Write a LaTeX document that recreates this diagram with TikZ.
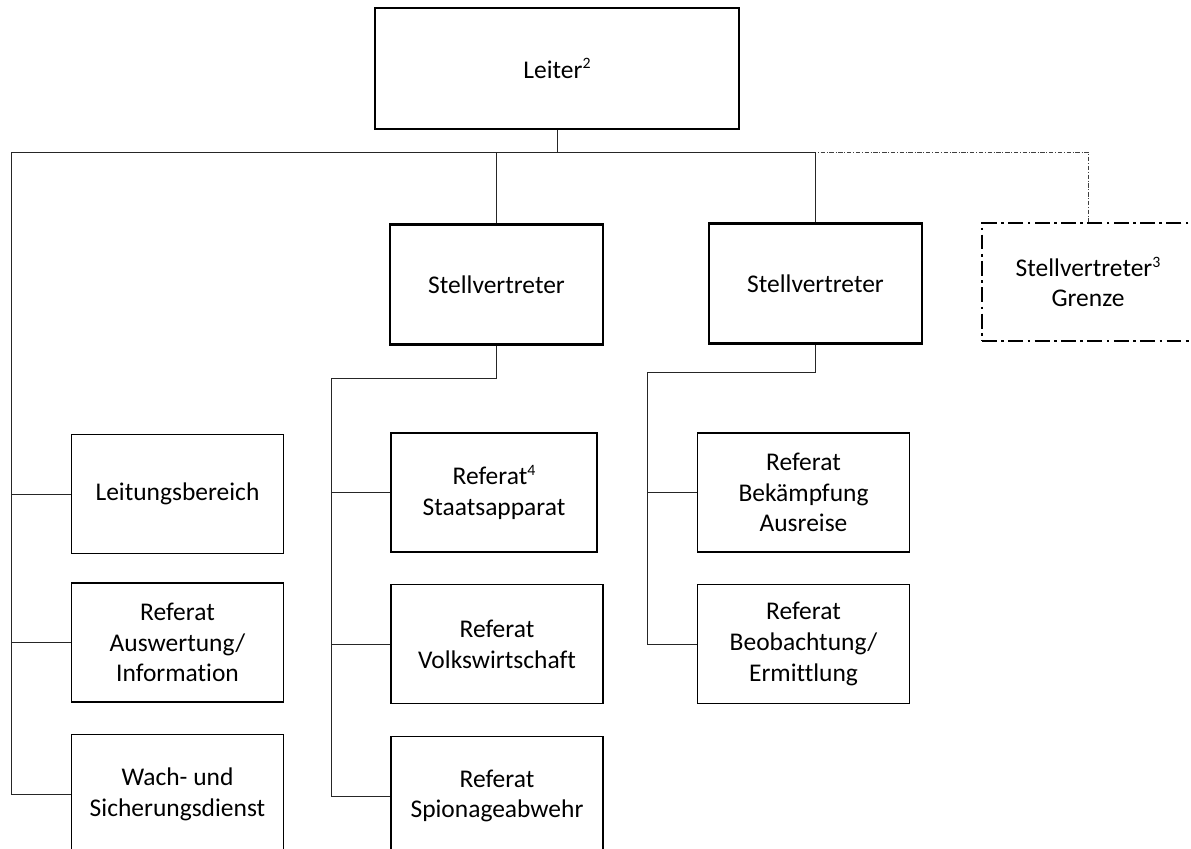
\documentclass[tikz,border=0pt]{standalone}
\usepackage{fontspec}
\setmainfont{Carlito}[Ligatures=NoCommon]
\usepackage{tikz}
\usetikzlibrary{positioning, calc}
\newcommand{\hochzahl}[1]{\raisebox{0.75ex}{\fontsize{9}{10}\selectfont #1}}

\begin{document}
\begin{tikzpicture}[
    every node/.style={font=\fontsize{14.5}{17.5}\selectfont, align=center, inner sep=0pt},
    leiterbox/.style={draw, line width=1.2pt, minimum width=7.28cm, minimum height=2.42cm},
    stvbox/.style={draw, line width=1.2pt, minimum width=4.26cm, minimum height=2.4cm},
    grenzbox/.style={draw, line width=1.1pt, dash pattern=on 8.5pt off 2.5pt on 1.5pt off 2.5pt, minimum width=4.24cm, minimum height=2.36cm},
    refbox/.style={draw, line width=0.6pt, minimum width=4.24cm, minimum height=2.38cm},
    conn/.style={draw, line width=0.55pt, black!85},
    dashconn/.style={draw, line width=0.45pt, black!75, dash pattern=on 2.5pt off 1pt on 0.5pt off 1pt}
]
\useasboundingbox (0,0) rectangle (23.82,-16.98);
\clip (0,0) rectangle (23.82,-16.98);

\node[leiterbox] (leiter) at (11.14,-1.37) {Leiter\hochzahl{2}};
\node[stvbox] (stv1) at (9.93,-5.69) {Stellvertreter};
\node[stvbox] (stv2) at (16.31,-5.67) {Stellvertreter};
\node[grenzbox] (grenze) at (21.76,-5.64) {Stellvertreter\hochzahl{3}\\Grenze};

\node[refbox] (leitung) at (3.55,-9.88) {Leitungsbereich};
\node[refbox] (auswertung) at (3.55,-12.85) {Referat\\Auswertung/\\Information};
\node[refbox] (wach) at (3.55,-15.88) {Wach- und\\Sicherungsdienst};

\node[refbox, minimum width=4.12cm] (staat) at (9.88,-9.85) {Referat\hochzahl{4}\\Staatsapparat};
\node[refbox] (volkswirt) at (9.94,-12.88) {Referat\\Volkswirtschaft};
\node[refbox] (spionage) at (9.94,-15.92) {Referat\\Spionageabwehr};

\node[refbox] (bekaempf) at (16.07,-9.85) {Referat\\Bekämpfung\\Ausreise};
\node[refbox] (beobacht) at (16.07,-12.88) {Referat\\Beobachtung/\\Ermittlung};

\coordinate (bus) at (0.22,-3.04);
\coordinate (mid) at (6.62,-7.56);
\coordinate (rgt) at (12.94,-7.44);

\draw[dashconn] (leiter.south |- bus) -| (grenze.north);
\draw[conn] (leiter.south) -- (leiter.south |- bus);
\draw[conn] (wach.west) -| (bus) -| (stv2.north);
\draw[conn] (stv1.north) -- (stv1.north |- bus);
\draw[conn] (leitung.west) -- (leitung.west -| bus);
\draw[conn] (auswertung.west) -- (auswertung.west -| bus);

\draw[conn] (stv1.south) |- (mid) |- (spionage.west);
\draw[conn] (staat.west) -- (staat.west -| mid);
\draw[conn] (volkswirt.west) -- (volkswirt.west -| mid);

\draw[conn] (stv2.south) |- (rgt) |- (beobacht.west);
\draw[conn] (bekaempf.west) -- (bekaempf.west -| rgt);
\end{tikzpicture}
\end{document}
